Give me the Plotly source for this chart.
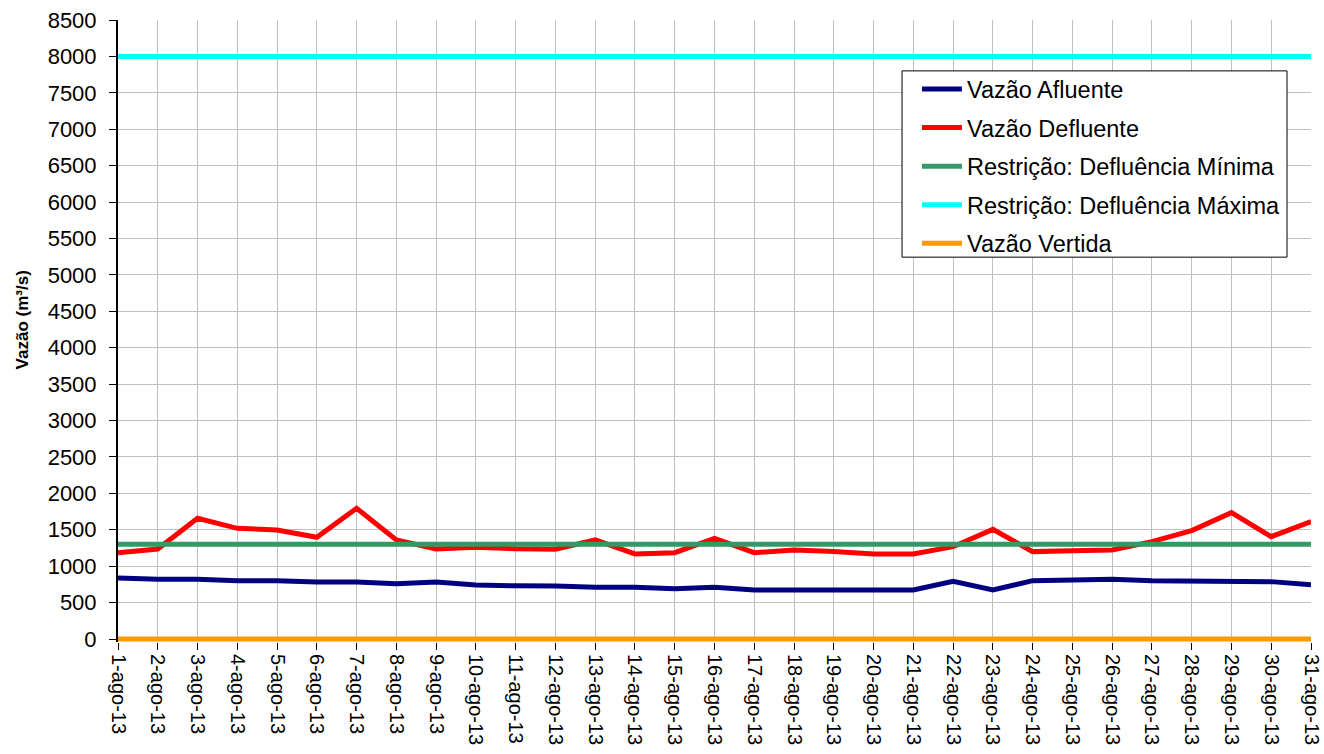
import plotly.graph_objects as go

# dias de agosto/2013
dias = ["%d-ago-13" % d for d in range(1, 32)]

vazao_afluente = [838, 820, 820, 801, 801, 783, 783, 760, 783, 742,
                  730, 729, 710, 710, 691, 710, 673, 673, 673, 673,
                  673, 792, 673, 801, 806, 820, 801, 801, 788, 788, 746]
vazao_defluente = [1185, 1236, 1658, 1520, 1497, 1397, 1795, 1360, 1236, 1260,
                   1240, 1232, 1360, 1168, 1185, 1383, 1185, 1222, 1200, 1168,
                   1168, 1268, 1506, 1200, 1213, 1222, 1337, 1488, 1735, 1406, 1612]
defl_minima = [1300] * 31
defl_maxima = [8000] * 31
vazao_vertida = [0] * 31

fnt = "Liberation Sans, Arial, sans-serif"

series = [
    ("Vazão Afluente", vazao_afluente, "#000080"),
    ("Vazão Defluente", vazao_defluente, "#ff0000"),
    ("Restrição: Defluência Mínima", defl_minima, "#339966"),
    ("Restrição: Defluência Máxima", defl_maxima, "#00ffff"),
    ("Vazão Vertida", vazao_vertida, "#ff9900"),
]

fig = go.Figure()
for i, (nome, vals, cor) in enumerate(series):
    fig.add_trace(go.Scatter(x=dias, y=vals, name=nome, mode="lines", legendgroup="g%d" % i,
                             line=dict(color=cor, width=5), cliponaxis=False))

# eixo y comeca um pouco abaixo de 0 para a linha laranja nao ser cortada pela metade
fig.update_layout(
    width=1324, height=754,
    margin=dict(l=118, r=13, t=20, b=112),
    paper_bgcolor="white", plot_bgcolor="white",
    font=dict(family=fnt, size=20, color="black"),
    xaxis=dict(type="category", tickangle=90, showgrid=True, gridcolor="#c0c0c0", gridwidth=1,
               ticks="outside", ticklen=7, tickcolor="black", showline=False,
               range=[0, 30], tickfont=dict(size=20), automargin=False,
               ticklabeloverflow="allow", layer="below traces"),
    yaxis=dict(range=[-41, 8500], tick0=0, dtick=500, showgrid=True, gridcolor="#c0c0c0", gridwidth=1,
               ticks="outside", ticklen=7, tickcolor="black", showline=True, linecolor="black",
               linewidth=2, zeroline=False, tickfont=dict(size=22), automargin=False,
               ticklabelstandoff=8, ticklabeloverflow="allow", layer="below traces"),
    legend=dict(x=0.6697, y=0.924, xanchor="left", yanchor="top", borderwidth=0,
                bgcolor="rgba(0,0,0,0)", font=dict(size=23.5), tracegroupgap=5, itemwidth=40),
    showlegend=True,
    shapes=[dict(type="rect", xref="paper", yref="paper", x0=0.6572, x1=0.9799, y0=0.6187, y1=0.9182,
                 line=dict(color="black", width=1), fillcolor="white", layer="above")],
    annotations=[dict(text="<b>Vazão (m³/s)</b>", xref="paper", yref="paper", x=-0.0805, y=0.5186,
                      xanchor="center", yanchor="middle",
                      textangle=-90, showarrow=False, font=dict(size=17))],
)
# tira a margem de 8px do body para a figura ocupar a janela toda
fig.write_html("out.html", config={"displayModeBar": False},
               post_script="document.body.style.margin='0';document.body.style.overflow='hidden';")
